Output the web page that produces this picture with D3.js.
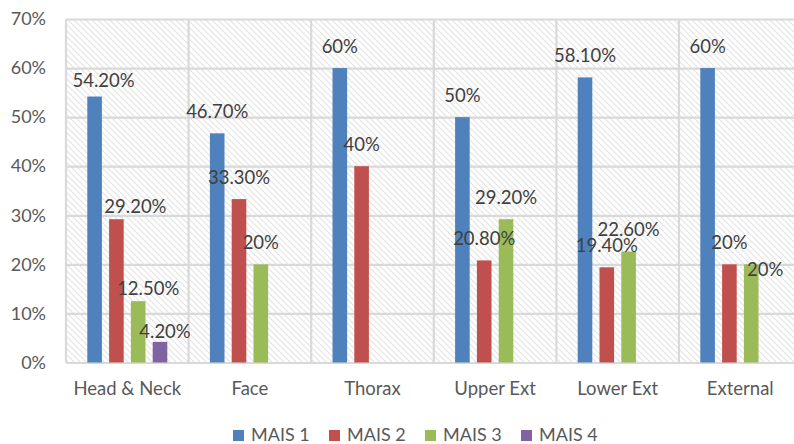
<!DOCTYPE html>
<html>
<head>
<meta charset="utf-8">
<script src="https://cdn.jsdelivr.net/npm/d3@7"></script>
<style>
  body { margin: 0; background: #fff; }
  text { font-family: Lato, "Open Sans", sans-serif; }
</style>
</head>
<body>
<svg id="chart" width="794" height="444"></svg>
<script>
// Chart data
const categories = ['Head & Neck', 'Face', 'Thorax', 'Upper Ext', 'Lower Ext', 'External'];
const seriesNames = ['MAIS 1', 'MAIS 2', 'MAIS 3', 'MAIS 4'];
const mais1 = [54.2, 46.7, 60, 50, 58.1, 60];
const mais2 = [29.2, 33.3, 40, 20.8, 19.4, 20];
const mais3 = [12.5, 20, null, 29.2, 22.6, 20];
const mais4 = [4.2, null, null, null, null, null];
const yTicks = [0, 10, 20, 30, 40, 50, 60, 70];

const seriesValues = [mais1, mais2, mais3, mais4];
const colors = ['#4f81bd', '#c0504d', '#9bbb59', '#8064a2'];

// labels that were dragged away from their default spot (series-category: [dx, dy])
const labelNudge = {
    '0-0': [9, 6],
    '1-0': [19, 9],
    '2-0': [10, 9],
    '3-0': [5, 12],
    '2-5': [14, 27]
};

const svg = d3.select('#chart');
const plotLeft = 66, plotTop = 19, plotBottom = 362.5, plotRight = 801.6;

const x0 = d3.scaleBand().domain(categories).range([plotLeft, plotRight]);
const x1 = d3.scaleBand().domain(seriesNames).range([0, x0.bandwidth()])
    .paddingInner(0.33).paddingOuter(0.977);
const y = d3.scaleLinear().domain([0, 70]).range([plotBottom, plotTop]);

// hatch pattern for the plot area
const defs = svg.append('defs');
const pat = defs.append('pattern')
    .attr('id', 'hatch')
    .attr('patternUnits', 'userSpaceOnUse')
    .attr('width', 6).attr('height', 6);
pat.append('path')
    .attr('d', 'M-1,-1 L7,7 M-1,5 L1,7 M5,-1 L7,1')
    .attr('stroke', '#e3e3e3')
    .attr('stroke-width', 1.1);

svg.append('rect')
    .attr('x', plotLeft).attr('y', plotTop)
    .attr('width', plotRight - plotLeft).attr('height', plotBottom - plotTop)
    .attr('fill', 'url(#hatch)');

// horizontal gridlines + tick labels
const yAxis = svg.append('g')
    .attr('transform', `translate(${plotLeft},0)`)
    .call(d3.axisLeft(y).tickValues(yTicks).tickSize(-(plotRight - plotLeft)).tickPadding(20)
        .tickFormat(d => d + '%'));
yAxis.select('.domain').remove();
yAxis.selectAll('.tick line').attr('stroke', '#d9d9d9').attr('stroke-width', 2.2);
yAxis.selectAll('.tick text')
    .attr('fill', '#595959')
    .attr('font-size', 18);

// vertical category separators
const edges = categories.map(c => x0(c)).concat([plotRight]);
svg.append('g').selectAll('line')
    .data(edges)
    .enter().append('line')
    .attr('x1', d => d).attr('x2', d => d)
    .attr('y1', plotTop).attr('y2', plotBottom)
    .attr('stroke', '#d9d9d9')
    .attr('stroke-width', 2.2);

// bars
const barData = [];
seriesValues.forEach((vals, si) => {
    vals.forEach((v, ci) => {
        if (v !== null) barData.push({ si, ci, v });
    });
});

svg.append('g').selectAll('rect')
    .data(barData)
    .enter().append('rect')
    .attr('x', d => x0(categories[d.ci]) + x1(seriesNames[d.si]))
    .attr('y', d => y(d.v))
    .attr('width', x1.bandwidth())
    .attr('height', d => y(0) - y(d.v))
    .attr('fill', d => colors[d.si]);

// data labels
const fmt = v => (v % 1 === 0 ? v : v.toFixed(2)) + '%';
svg.append('g').selectAll('text')
    .data(barData)
    .enter().append('text')
    .attr('x', d => {
        const n = labelNudge[d.si + '-' + d.ci];
        return x0(categories[d.ci]) + x1(seriesNames[d.si]) + x1.bandwidth() / 2 + (n ? n[0] : 0);
    })
    .attr('y', d => {
        const n = labelNudge[d.si + '-' + d.ci];
        return y(d.v) - 22 + (n ? n[1] : 0);
    })
    .attr('dy', '0.35em')
    .attr('text-anchor', 'middle')
    .attr('fill', '#404040')
    .attr('font-size', 18.5)
    .text(d => fmt(d.v));

// category axis labels
svg.append('g').selectAll('text')
    .data(categories)
    .enter().append('text')
    .attr('x', d => x0(d) + x0.bandwidth() / 2)
    .attr('y', 389)
    .attr('dy', '0.35em')
    .attr('text-anchor', 'middle')
    .attr('fill', '#595959')
    .attr('font-size', 18.5)
    .text(d => d);

// legend
const legend = svg.append('g').attr('transform', 'translate(233,435)');
const item = legend.selectAll('g')
    .data(seriesNames)
    .enter().append('g')
    .attr('transform', (d, i) => `translate(${i * 96},0)`);
item.append('rect')
    .attr('x', 0).attr('y', -5)
    .attr('width', 11).attr('height', 11)
    .attr('fill', (d, i) => colors[i]);
item.append('text')
    .attr('x', 18)
    .attr('dy', '0.35em')
    .attr('fill', '#595959')
    .attr('font-size', 18)
    .text(d => d);
</script>
</body>
</html>
